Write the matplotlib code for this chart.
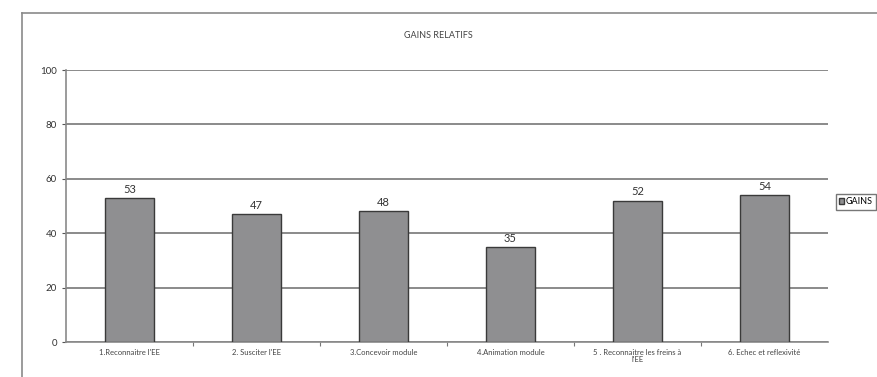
import numpy as np
import matplotlib.pyplot as plt
from matplotlib.lines import Line2D

plt.rcParams['font.family'] = ['Lato', 'DejaVu Sans']

categories = ["1.Reconnaitre l'EE", "2. Susciter l'EE", "3.Concevoir module",
              "4.Animation module", "5 . Reconnaitre les freins à\nl'EE",
              "6. Echec et reflexivité"]
gains = [53, 47, 48, 35, 52, 54]
y_ticks = [0, 20, 40, 60, 80, 100]

fig = plt.figure(figsize=(8.77, 3.77), dpi=100)
ax = fig.add_axes([66 / 877, 1 - 342 / 377, 762 / 877, 272 / 377])

x = np.arange(len(categories))
bars = ax.bar(x, gains, width=0.39, color='#8f8f91', edgecolor='#3a3a3a',
              linewidth=1.0, zorder=3, label='GAINS')
for b, v in zip(bars, gains):
    ax.text(b.get_x() + b.get_width() / 2, v + 1.2, str(v), ha='center',
            va='bottom', fontsize=8, color='#333333')

ax.set_xlim(-0.5, len(categories) - 0.5)
ax.set_ylim(0, 100)
ax.set_yticks(y_ticks)
ax.tick_params(axis='y', labelsize=7, colors='#555555', length=3, width=0.8,
               labelcolor='#333333')
ax.set_xticks(x)
ax.set_xticklabels(categories, fontsize=5.5, color='#444444', linespacing=1.0)
ax.tick_params(axis='x', length=0, pad=5)
ax.set_xticks(np.arange(0.5, len(categories) - 0.5, 1), minor=True)
ax.tick_params(axis='x', which='minor', length=3, width=0.8, colors='#777777')
ax.grid(axis='y', color='#8a8a8a', linewidth=1.4, zorder=0)
for s in ['top', 'right']:
    ax.spines[s].set_visible(False)
ax.spines['left'].set_color('#8a8a8a')
ax.spines['bottom'].set_color('#8a8a8a')
ax.spines['left'].set_linewidth(1.2)
ax.spines['bottom'].set_linewidth(1.2)

fig.text(438 / 877, 1 - 35 / 377, 'GAINS RELATIFS', ha='center', va='center',
         fontsize=6.5, color='#444444')

# chart frame (top and left edges visible)
fig.add_artist(Line2D([22 / 877, 1.0], [1 - 13 / 377, 1 - 13 / 377],
                      transform=fig.transFigure, color='#8a8a8a', linewidth=1.2))
fig.add_artist(Line2D([22 / 877, 22 / 877], [0, 1 - 13 / 377],
                      transform=fig.transFigure, color='#8a8a8a', linewidth=1.2))

fig.legend(handles=[bars], labels=['GAINS'], loc='center left',
           bbox_to_anchor=(831 / 877, 1 - 202 / 377), fontsize=6.5,
           frameon=True, edgecolor='#555555', fancybox=False,
           handlelength=0.6, handleheight=0.6, handletextpad=0.2,
           borderpad=0.35)

fig.savefig('out.png', dpi=100)
